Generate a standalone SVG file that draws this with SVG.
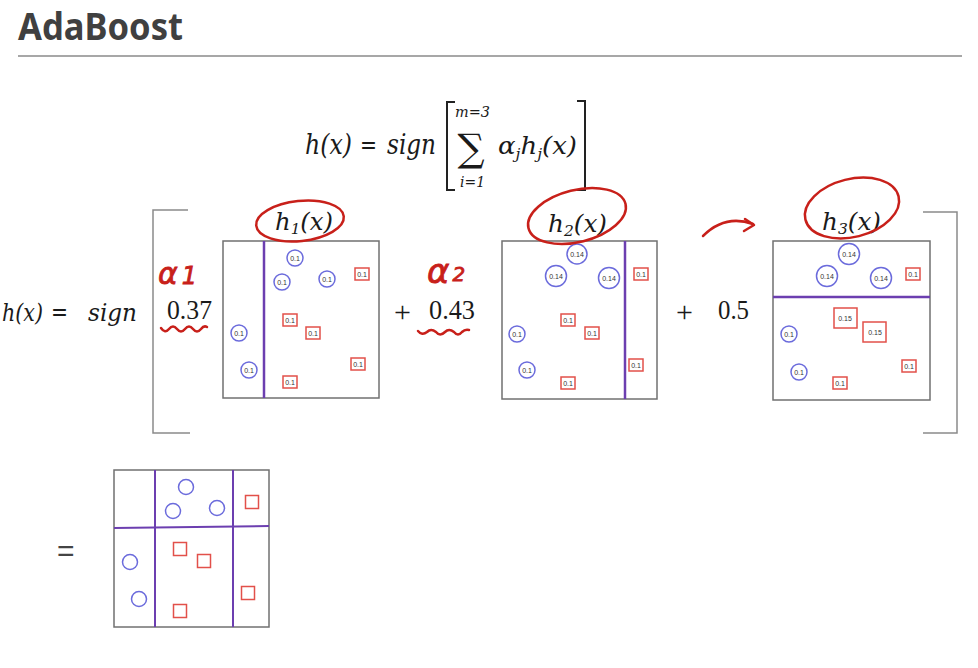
<svg xmlns="http://www.w3.org/2000/svg" width="978" height="668" viewBox="0 0 978 668">
<style>
.math{font-family:"DejaVu Serif","Liberation Serif",serif;font-style:italic;fill:#1a1a1a}
.num{font-family:"Liberation Serif","DejaVu Serif",serif;fill:#1a1a1a}
.frame{fill:none;stroke:#707070;stroke-width:1.5}
.split{stroke:#6c3fb0;stroke-width:2.5}
.c{fill:#fff;stroke:#6b6bdc;stroke-width:1.5}
.s{fill:#fff;stroke:#e2504a;stroke-width:1.5}
.lbl{font-family:"Liberation Sans",Arial,sans-serif;font-size:7px;fill:#333;text-anchor:middle}
.big{fill:none;stroke:#8a8a8a;stroke-width:1.5}
.red{fill:none;stroke:#c8201a;stroke-width:2.5;stroke-linecap:round;stroke-linejoin:round}
.hand{font-family:"DejaVu Sans",sans-serif;font-style:italic;fill:#c8201a;stroke:#c8201a;stroke-width:0.8}
</style>
<rect width="978" height="668" fill="#fff"/>
<g id="title">
<text x="18" y="40" font-family="'Noto Sans','Liberation Sans',sans-serif" font-weight="bold" font-size="37" fill="#404040" textLength="165" lengthAdjust="spacingAndGlyphs">AdaBoost</text>
<line x1="18" y1="56" x2="962" y2="56" stroke="#8a8a8a" stroke-width="1.5"/>
</g>
<g id="formula-top">
<text class="math" x="305" y="154" font-size="27" textLength="47" lengthAdjust="spacingAndGlyphs">h(x)</text>
<text class="math" x="360" y="154" font-size="26" font-style="normal" textLength="17" lengthAdjust="spacingAndGlyphs">=</text>
<text class="math" x="387" y="154" font-size="27" textLength="49" lengthAdjust="spacingAndGlyphs">sign</text>
<path d="M455,102 L447,102 L447,190 L455,190" fill="none" stroke="#222" stroke-width="2"/>
<path d="M577,101 L585,101 L585,190 L577,190" fill="none" stroke="#222" stroke-width="2"/>
<text class="math" x="455" y="117" font-size="15" textLength="35" lengthAdjust="spacingAndGlyphs">m=3</text>
<text class="math" x="471" y="161" font-size="38" font-style="normal" text-anchor="middle">∑</text>
<text class="math" x="460" y="187" font-size="15" textLength="25" lengthAdjust="spacingAndGlyphs">i=1</text>
<text class="math" x="498" y="154" font-size="25" textLength="79" lengthAdjust="spacingAndGlyphs">α<tspan font-size="15" dy="5">j</tspan><tspan dy="-5">h</tspan><tspan font-size="15" dy="5">j</tspan><tspan dy="-5">(x)</tspan></text>
</g>
<g id="formula-left">
<text class="math" x="2" y="321" font-size="25" textLength="41" lengthAdjust="spacingAndGlyphs">h(x)</text>
<text class="math" x="51" y="320" font-size="24" font-style="normal" textLength="17" lengthAdjust="spacingAndGlyphs">=</text>
<text class="math" x="88" y="321" font-size="25" textLength="49" lengthAdjust="spacingAndGlyphs">sign</text>
<path class="big" d="M188,210 L153,210 L153,433 L190,433"/>
<path class="big" d="M923,212 L957,212 L957,433 L923,433"/>
<text class="num" x="167" y="319" font-size="27" textLength="45" lengthAdjust="spacingAndGlyphs">0.37</text>
<text class="num" x="394" y="322" font-size="30">+</text>
<text class="num" x="429" y="319" font-size="27" textLength="46" lengthAdjust="spacingAndGlyphs">0.43</text>
<text class="num" x="676" y="322" font-size="30">+</text>
<text class="num" x="718" y="319" font-size="27" textLength="31" lengthAdjust="spacingAndGlyphs">0.5</text>
</g>
<g id="h1">
<text class="math" x="275" y="230" font-size="24" textLength="58" lengthAdjust="spacingAndGlyphs">h<tspan font-size="15" dy="4">1</tspan><tspan dy="-4">(x)</tspan></text>
<rect class="frame" x="223" y="241" width="156" height="157"/>
<line class="split" x1="264" y1="241" x2="264" y2="398"/>
<circle class="c" cx="295" cy="258" r="8"/><text class="lbl" x="295" y="260.5">0.1</text>
<circle class="c" cx="282" cy="282" r="8"/><text class="lbl" x="282" y="284.5">0.1</text>
<circle class="c" cx="327" cy="279" r="8"/><text class="lbl" x="327" y="281.5">0.1</text>
<circle class="c" cx="239" cy="333" r="8"/><text class="lbl" x="239" y="335.5">0.1</text>
<circle class="c" cx="249" cy="370" r="8"/><text class="lbl" x="249" y="372.5">0.1</text>
<rect class="s" x="355" y="268" width="14" height="12"/><text class="lbl" x="362" y="276.5">0.1</text>
<rect class="s" x="283" y="314" width="14" height="12"/><text class="lbl" x="290" y="322.5">0.1</text>
<rect class="s" x="306" y="327" width="14" height="12"/><text class="lbl" x="313" y="335.5">0.1</text>
<rect class="s" x="351" y="358" width="14" height="12"/><text class="lbl" x="358" y="366.5">0.1</text>
<rect class="s" x="283" y="376" width="14" height="12"/><text class="lbl" x="290" y="384.5">0.1</text>
</g>
<g id="h2">
<text class="math" x="548" y="232" font-size="24" textLength="59" lengthAdjust="spacingAndGlyphs">h<tspan font-size="15" dy="4">2</tspan><tspan dy="-4">(x)</tspan></text>
<rect class="frame" x="502" y="241" width="155" height="158"/>
<line class="split" x1="625" y1="241" x2="625" y2="399"/>
<circle class="c" cx="577" cy="254" r="10"/><text class="lbl" x="577" y="256.5">0.14</text>
<circle class="c" cx="556" cy="276" r="10.5"/><text class="lbl" x="556" y="278.5">0.14</text>
<circle class="c" cx="609" cy="278" r="10.5"/><text class="lbl" x="609" y="280.5">0.14</text>
<circle class="c" cx="517" cy="334" r="8"/><text class="lbl" x="517" y="336.5">0.1</text>
<circle class="c" cx="527" cy="370" r="8"/><text class="lbl" x="527" y="372.5">0.1</text>
<rect class="s" x="634" y="268" width="14" height="12"/><text class="lbl" x="641" y="276.5">0.1</text>
<rect class="s" x="561" y="314" width="14" height="12"/><text class="lbl" x="568" y="322.5">0.1</text>
<rect class="s" x="585" y="327" width="14" height="12"/><text class="lbl" x="592" y="335.5">0.1</text>
<rect class="s" x="629" y="359" width="14" height="12"/><text class="lbl" x="636" y="367.5">0.1</text>
<rect class="s" x="561" y="377" width="14" height="12"/><text class="lbl" x="568" y="385.5">0.1</text>
</g>
<g id="h3">
<text class="math" x="822" y="230" font-size="24" textLength="59" lengthAdjust="spacingAndGlyphs">h<tspan font-size="15" dy="4">3</tspan><tspan dy="-4">(x)</tspan></text>
<rect class="frame" x="773" y="241" width="157" height="159"/>
<line class="split" x1="773" y1="297" x2="930" y2="297"/>
<circle class="c" cx="849" cy="254" r="10.5"/><text class="lbl" x="849" y="256.5">0.14</text>
<circle class="c" cx="827" cy="276" r="10.5"/><text class="lbl" x="827" y="278.5">0.14</text>
<circle class="c" cx="881" cy="278" r="10.5"/><text class="lbl" x="881" y="280.5">0.14</text>
<circle class="c" cx="789" cy="334" r="8"/><text class="lbl" x="789" y="336.5">0.1</text>
<circle class="c" cx="799" cy="372" r="8"/><text class="lbl" x="799" y="374.5">0.1</text>
<rect class="s" x="906" y="268" width="14" height="12"/><text class="lbl" x="913" y="276.5">0.1</text>
<rect class="s" x="834" y="308" width="23" height="20"/><text class="lbl" x="845" y="320.5">0.15</text>
<rect class="s" x="863" y="322" width="23" height="20"/><text class="lbl" x="875" y="334.5">0.15</text>
<rect class="s" x="902" y="360" width="14" height="12"/><text class="lbl" x="909" y="368.5">0.1</text>
<rect class="s" x="833" y="377" width="14" height="12"/><text class="lbl" x="840" y="385.5">0.1</text>
</g>
<g id="result">
<text x="57" y="561" font-family="'Liberation Sans',Arial,sans-serif" font-size="30" fill="#444">=</text>
<rect class="frame" x="114" y="470" width="155" height="157"/>
<line x1="155" y1="470" x2="155" y2="627" stroke="#6c3fb0" stroke-width="2"/>
<line x1="233" y1="470" x2="233" y2="627" stroke="#6c3fb0" stroke-width="2"/>
<line x1="114" y1="528" x2="269" y2="526" stroke="#6c3fb0" stroke-width="2"/>
<circle class="c" cx="186" cy="487" r="7.5"/>
<circle class="c" cx="173" cy="511" r="7.5"/>
<circle class="c" cx="217" cy="508" r="7.5"/>
<circle class="c" cx="130" cy="562" r="7.5"/>
<circle class="c" cx="139" cy="599" r="7.5"/>
<rect class="s" x="245.5" y="495.5" width="13" height="13"/>
<rect class="s" x="173.5" y="542.5" width="13" height="13"/>
<rect class="s" x="197.5" y="554.5" width="13" height="13"/>
<rect class="s" x="241.5" y="586.5" width="13" height="13"/>
<rect class="s" x="173.5" y="604.5" width="13" height="13"/>
</g>
<g id="annotations">
<ellipse class="red" cx="300" cy="221" rx="44" ry="20" transform="rotate(-6 300 221)"/>
<ellipse class="red" cx="577" cy="216" rx="50" ry="26" transform="rotate(-14 577 216)"/>
<ellipse class="red" cx="852" cy="208" rx="48" ry="29" transform="rotate(-14 852 208)"/>
<path class="red" d="M703,236 Q725,214 753,224"/>
<path class="red" d="M745,219 L754,225 L744,231"/>
<path class="red" d="M161,328 q4,6 8,1 q4,-5 8,0 q4,5 8,0 q4,-5 8,0 q4,5 8,0 q3,-4 6,-2"/>
<path class="red" d="M418,331 q4,5 9,1 q4,-4 9,0 q4,5 9,0 q4,-4 9,0 q4,5 8,0 q3,-3 7,-2"/>
<text class="hand" x="158" y="284" font-size="30">α<tspan font-size="24" dx="4">1</tspan></text>
<text class="hand" x="427" y="283" font-size="34">α<tspan font-size="20" dx="3" dy="-2">2</tspan></text>
</g>
</svg>
